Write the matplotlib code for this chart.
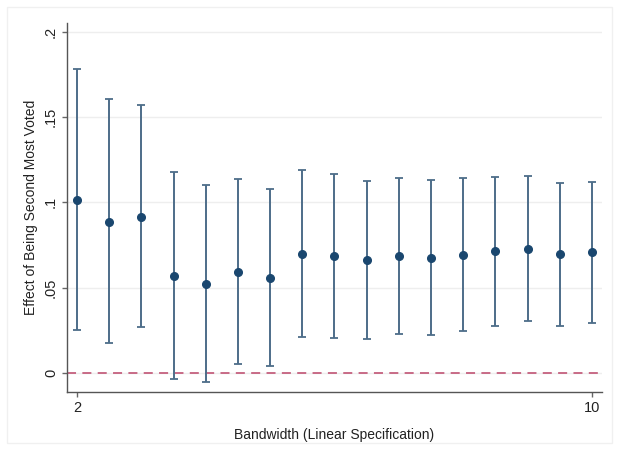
import numpy as np
import matplotlib.pyplot as plt
from matplotlib.patches import Rectangle

plt.rcParams['font.family'] = ['Liberation Sans', 'DejaVu Sans']

# RD estimates by bandwidth, with 95% confidence bounds
bandwidth = [2, 2.5, 3, 3.5, 4, 4.5, 5, 5.5, 6, 6.5, 7, 7.5, 8, 8.5, 9, 9.5, 10]
estimate = [0.1015, 0.0885, 0.0915, 0.0569, 0.0522, 0.0592, 0.0557, 0.0698, 0.0686,
            0.0663, 0.0686, 0.0674, 0.0692, 0.0715, 0.0727, 0.0698, 0.0709]
ci_low = [0.0252, 0.0176, 0.027, -0.0035, -0.0053, 0.0053, 0.0041, 0.0211, 0.0205,
          0.0199, 0.0229, 0.0223, 0.0246, 0.0276, 0.0305, 0.0276, 0.0293]
ci_high = [0.178, 0.1606, 0.157, 0.1178, 0.110, 0.1137, 0.108, 0.119, 0.1166,
           0.1125, 0.1143, 0.1131, 0.1143, 0.1149, 0.1155, 0.1114, 0.112]
yticks = [0, 0.05, 0.1, 0.15, 0.2]
ytick_labels = ['0', '.05', '.1', '.15', '.2']
xticks = [2, 10]

est = np.array(estimate)
lo = np.array(ci_low)
hi = np.array(ci_high)

fig = plt.figure(figsize=(6.19, 4.5), dpi=100)
fig.patch.set_facecolor('white')
fig.patches.append(Rectangle((0.011, 0.015), 0.978, 0.97, transform=fig.transFigure,
                             fill=False, edgecolor='#f0f0f0', linewidth=1.0))
ax = fig.add_axes([0.1082, 0.1289, 0.8643, 0.82])

ax.grid(axis='y', color='#eeeeee', linewidth=1.0)
ax.set_axisbelow(True)

ax.axhline(0, color='#c4607e', linestyle=(0, (5, 3.5)), linewidth=1.3, zorder=1)

ax.errorbar(bandwidth, est, yerr=[est - lo, hi - est], fmt='none',
            ecolor='#4d6d89', elinewidth=1.4, capsize=3, capthick=1.3, zorder=2)
ax.plot(bandwidth, est, 'o', color='#1a476f', markersize=5.5, zorder=3)

ax.set_xlim(1.845, 10.155)
ax.set_ylim(-0.0111, 0.205)
ax.set_xticks(xticks)
ax.set_xticklabels([str(t) for t in xticks])
ax.set_yticks(yticks)
ax.set_yticklabels(ytick_labels, rotation=90, va='center')

for side in ['top', 'right']:
    ax.spines[side].set_visible(False)
for side in ['left', 'bottom']:
    ax.spines[side].set_color('#555555')
    ax.spines[side].set_linewidth(1.0)
ax.tick_params(axis='both', colors='#666666', labelcolor='#222222', labelsize=10.5,
               length=3.5, width=1.0, pad=3)

ax.set_xlabel('Bandwidth (Linear Specification)', fontsize=10, color='#222222', labelpad=9)
ax.set_ylabel('Effect of Being Second Most Voted', fontsize=10, color='#222222', labelpad=4)

fig.savefig('out.png', dpi=100)
